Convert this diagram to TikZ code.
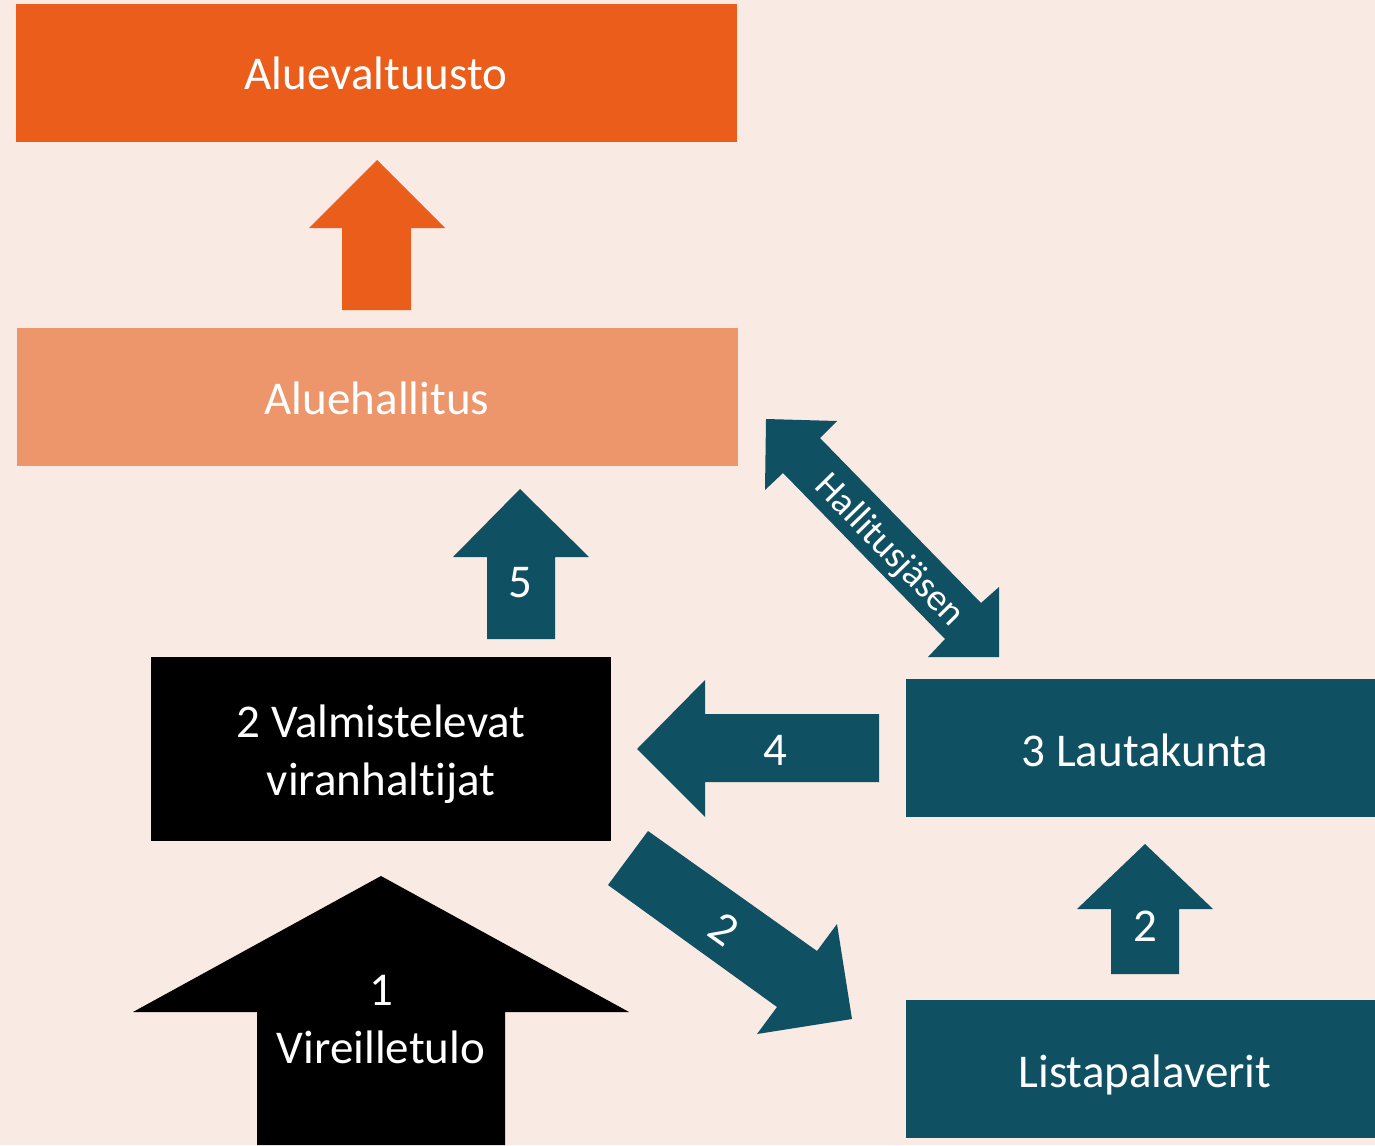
\documentclass[tikz,border=0pt]{standalone}
\usepackage{fontspec}
\setmainfont{Carlito}[Ligatures={NoCommon}]
\definecolor{bgc}{RGB}{249,234,227}
\definecolor{orA}{RGB}{235,93,26}
\definecolor{orB}{RGB}{237,150,107}
\definecolor{tealc}{RGB}{16,80,99}
\begin{document}
\begin{tikzpicture}[x=1pt,y=-1pt,
  box/.style={rectangle, inner sep=0pt, outer sep=0pt},
  lbl/.style={text=white, font=\fontsize{47}{58}\selectfont, anchor=base, inner sep=0pt},
  small/.style={text=white, font=\fontsize{38}{46}\selectfont, inner sep=0pt},
  blockarrow/.style={fill=tealc},
]
\fill[bgc] (0,0) rectangle (1375,1145);
\useasboundingbox (0,0) rectangle (1375,1145);

% boxes
\node[box, fill=orA, minimum width=721pt, minimum height=138pt] (valt) at (376.5,73) {};
\node[box, fill=orB, minimum width=721pt, minimum height=138pt] (hall) at (377.5,397) {};
\node[box, fill=black, minimum width=460pt, minimum height=184pt] (valm) at (381,749) {};
\node[box, fill=tealc, minimum width=469pt, minimum height=138pt] (laut) at (1140.5,748) {};
\node[box, fill=tealc, minimum width=469pt, minimum height=138pt] (lista) at (1140.5,1069) {};

% box labels
\node[lbl] (tvalt) at (376,90) {Aluevaltuusto};
\node[lbl] (thall) at (377,414) {Aluehallitus};
\node[lbl] (tvalm1) at (381,737) {2 Valmistelevat};
\node[lbl] (tvalm2) at (381,795) {viranhaltijat};
\node[lbl] (tlaut) at (1145,766) {3 Lautakunta};
\node[lbl] (tlista) at (1145,1087) {Listapalaverit};

% block arrows
\fill[orA] (377,160) -- (445,228) -- (411,228) -- (411,310) -- (342,310) -- (342,228) -- (309,228) -- cycle;
\fill[blockarrow] (520,489) -- (589,557) -- (555,557) -- (555,639) -- (487,639) -- (487,557) -- (453,557) -- cycle;
\fill[blockarrow] (1145,844) -- (1213,909) -- (1179,909) -- (1179,974) -- (1111,974) -- (1111,909) -- (1077,909) -- cycle;
\fill[blockarrow] (637,749) -- (705,680) -- (705,714) -- (879,714) -- (879,782) -- (705,782) -- (705,817) -- cycle;
\fill[black] (381,876) -- (629,1012) -- (505,1012) -- (505,1145) -- (257,1145) -- (257,1012) -- (133,1012) -- cycle;
\fill[blockarrow] (648,831) -- (817,951) -- (837,924) -- (852,1019) -- (757,1034) -- (777,1007) -- (608,885) -- cycle;
\fill[blockarrow] (766,419) -- (837,421) -- (820,438) -- (981,603) -- (999,587) -- (999,657) -- (928,657) -- (945,639) -- (783,473) -- (765,490) -- cycle;

% arrow labels
\node[lbl] (a5) at (520,597) {5};
\node[lbl] (a4) at (775,765) {4};
\node[lbl] (a2up) at (1145,941) {2};
\node[lbl] (a1a) at (381,1005) {1};
\node[lbl] (a1b) at (381,1063) {Vireilletulo};
\node[text=white, font=\fontsize{47}{58}\selectfont, inner sep=0pt, rotate=-35.7] (a2d) at (724,929) {2};
\node[small, rotate=-45.6] (ahj) at (889,551) {Hallitusjäsen};
\end{tikzpicture}
\end{document}
